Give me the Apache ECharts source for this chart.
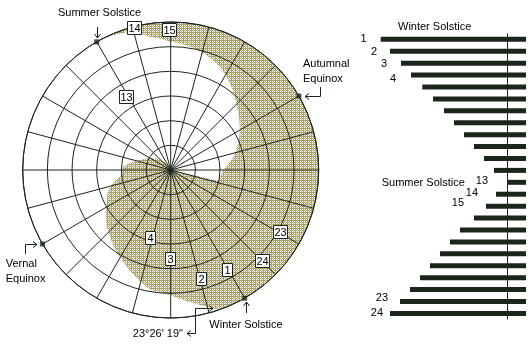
<!DOCTYPE html>
<html><head><meta charset="utf-8">
<script src="https://cdn.jsdelivr.net/npm/echarts@6/dist/echarts.min.js"></script>
<style>html,body{margin:0;padding:0;background:#fff}#c{width:532px;height:347px}</style>
</head><body><div id="c"></div>
<script>
// ---------- data ----------
const ringCount = 6;            // radial rings
const spokeStep = 15;           // degrees between spokes
// shaded band: inner edge then outer edge, [radius (ring units), angle deg]
const shadeInner = [[0,-13],[1.95,-13],[2.13,0],[2.6,12],[3.06,25],[3.72,44],[4.18,54],[4.64,64.5],[4.91,74],[5.11,83],[5.2,90],[5.47,99],[5.84,106],[6,118]];
const shadeOuter = [[6,118],[6,-68],[5.92,-72],[5.47,-80],[5.07,-90],[4.9,-100],[4.3,-114.5],[3.65,-132.3],[3.32,-142.3],[2.92,-152.5],[2.66,-162.2],[2.07,-172.5],[1.93,-184],[1.3,-198],[0.85,-214],[0.32,-235],[0,-250]];
// numbered markers on the polar plot
const markerLabels = ['1','2','3','4','13','14','15','23','24'];
const markerPos = [[4.65,299.5],[4.58,285.7],[3.6,270],[2.87,253.6],[3.45,121.5],[5.96,104.4],[5.68,90.3],[5.12,330.5],[5.26,315.3]];
// season points on the rim: summer, autumn, vernal, winter
const seasonPts = [[6,120],[6,30],[6,210],[6,300]];
const seasonNames = ['Summer Solstice','Autumnal\nEquinox','Vernal\nEquinox','Winter Solstice'];
const obliquityText = '23°26\' 19"';
const obliquityPt = [5.92,288];
// bar chart
const barCats = ['1','2','3','4','5','6','7','8','9','10','11','12','13','14','15','16','17','18','19','20','21','22','23','24'];
const barValues = [145.3,136,125,115,103.7,93,82,72,62,52,42,32,18,30,40,52,66,76,86,96,106,116,126,136];
const barRefValue = 18.3;
const barShownLabels = ['1','2','3','4','13','14','15','23','24'];
const barTitles = ['Winter Solstice','Summer Solstice'];

// ---------- style ----------
const INK = '#1b261b';
const FONT = '"Liberation Sans", Arial, sans-serif';
const barLabelStyle = { // distance, dy
  '1':[14,0],'2':[13,1],'3':[14,1],'4':[15,3.5],'13':[20,-1],'14':[18,-1.3],'15':[22,-2.7],'23':[12,-3.5],'24':[7,0]
};
function stipple(){
  const c=document.createElement('canvas'); c.width=4; c.height=4;
  const g=c.getContext('2d');
  const bayer=[[0,8,2,10],[12,4,14,6],[3,11,1,9],[15,7,13,5]];
  g.fillStyle='#ffffff'; g.fillRect(0,0,4,4);
  g.fillStyle='#b3a25e';
  for(let y=0;y<4;y++)for(let x=0;x<4;x++) if(bayer[y][x]<11) g.fillRect(x,y,1,1);
  return c;
}
const pattern = {image: stipple(), repeat:'repeat'};

const chart = echarts.init(document.getElementById('c'), null, {renderer:'canvas'});
const option = {
  animation:false,
  backgroundColor:'#fff',
  polar:{center:[170.7,170], radius:148},
  angleAxis:{type:'value', min:0, max:360, interval:spokeStep, startAngle:0, clockwise:false,
    axisLine:{show:true, lineStyle:{color:INK, width:1}}, axisTick:{show:false}, axisLabel:{show:false},
    splitLine:{show:true, lineStyle:{color:INK, width:1}}},
  radiusAxis:{type:'value', min:0, max:ringCount, interval:1,
    axisLine:{show:false}, axisTick:{show:false}, axisLabel:{show:false},
    splitLine:{show:true, lineStyle:{color:INK, width:1}}},
  grid:{left:376, width:150, top:33.35, height:286},
  xAxis:{type:'value', inverse:true, min:0, max:150, show:false},
  yAxis:{type:'category', data:barCats, inverse:true, show:false},
  series:[
    {type:'custom', coordinateSystem:'polar', z:-1, silent:true, data:[[0,0]],
      renderItem(params, api){
        const ring = shadeInner.concat(shadeOuter.slice(1));
        const pts=[];
        for(let i=0;i<ring.length-1;i++){
          const [r0,a0]=ring[i], [r1,a1]=ring[i+1];
          const n=Math.max(1,Math.ceil(Math.abs(a1-a0)/2));
          for(let k=0;k<n;k++){
            const t=k/n; const r=r0+(r1-r0)*t; let a=a0+(a1-a0)*t; a=((a%360)+360)%360;
            pts.push(api.coord([r,a]));
          }
        }
        const last=ring[ring.length-1];
        pts.push(api.coord([last[0], ((last[1]%360)+360)%360]));
        return {type:'polygon', shape:{points:pts}, style:{fill:pattern, stroke:null}};
      }},
    {type:'scatter', coordinateSystem:'polar', symbol:'rect', symbolSize:5, z:5,
      itemStyle:{color:INK}, data:seasonPts, silent:true},
    {type:'custom', coordinateSystem:'polar', z:6, silent:true, data:markerPos,
      renderItem(params, api){
        const t=markerLabels[params.dataIndex];
        const c=api.coord([api.value(0), api.value(1)]);
        const w = t.length===1 ? 11 : 15, h = 14;
        const x=Math.round(c[0]-w/2)+0.5, y=Math.round(c[1]-h/2)+0.5;
        return {type:'group', children:[
          {type:'rect', shape:{x, y, width:w-1, height:h-1}, style:{fill:'#fff', stroke:INK, lineWidth:1}},
          {type:'text', style:{text:t, x:x+(w-1)/2, y:y+(h-1)/2+0.5, align:'center', verticalAlign:'middle', font:'11px '+FONT, fill:'#000'}}
        ]};
      }},
    {type:'bar', xAxisIndex:0, yAxisIndex:0, barWidth:5, silent:true,
      itemStyle:{color:INK},
      data:barValues.map((v,i)=>{
        const name=barCats[i];
        const s=barLabelStyle[name];
        return {value:v, label: barShownLabels.includes(name)?
          {show:true, position:'left', distance:s[0], offset:[0,s[1]], formatter:name, color:'#000', fontFamily:FONT, fontSize:11}:{show:false}};
      }),
      markLine:{silent:true, symbol:'none', label:{show:false}, lineStyle:{color:INK, width:1, type:'solid'},
        data:[{xAxis:barRefValue}]}}
  ]
};
chart.setOption(option);

// ---------- annotations anchored to data ----------
function head(tip, dir){ // dir: unit vector the arrow points to
  const bx=-dir[0], by=-dir[1], px=-by, py=bx;
  return {type:'polyline', silent:true, shape:{points:[[tip[0]+bx*4+px*3, tip[1]+by*4+py*3],[tip[0],tip[1]],[tip[0]+bx*4-px*3, tip[1]+by*4-py*3]]}, style:{stroke:INK, lineWidth:1, fill:null}};
}
function line(points){ return {type:'polyline', silent:true, shape:{points}, style:{stroke:INK, lineWidth:1, fill:null}}; }
function txt(x,y,text,align){ return {type:'text', silent:true, x, y, style:{text, fill:'#000', font:'11px '+FONT, align:align||'left', verticalAlign:'middle', lineHeight:15}}; }
const R = p => [Math.round(p[0]), Math.round(p[1])];
const P = i => R(chart.convertToPixel({seriesIndex:1}, seasonPts[i]));
const s=P(0), a=P(1), v=P(2), w=P(3);
const o = R(chart.convertToPixel({seriesIndex:1}, obliquityPt));
const b1 = chart.convertToPixel({seriesIndex:3}, [barValues[0], 0]);
const b13 = chart.convertToPixel({seriesIndex:3}, [barValues[12], 12]);
const els = [
  txt(s[0]-39, s[1]-28.7, seasonNames[0]),
  line([[s[0]+0.5, s[1]-15],[s[0]+0.5, s[1]-4]]), head([s[0]+0.5, s[1]-4],[0,1]),
  txt(a[0]+4, a[1]-24.5, seasonNames[1]),
  line([[a[0]+21.5, a[1]-9],[a[0]+21.5, a[1]+0.5],[a[0]+6, a[1]+0.5]]), head([a[0]+6, a[1]+0.5],[-1,0]),
  txt(v[0]-37.3, v[1]+27, seasonNames[2]),
  line([[v[0]-17.5, v[1]+10],[v[0]-17.5, v[1]+0.5],[v[0]-6, v[1]+0.5]]), head([v[0]-6, v[1]+0.5],[1,0]),
  txt(w[0]-35.7, w[1]+26.6, seasonNames[3]),
  line([[w[0]+1.5, w[1]+15],[w[0]+1.5, w[1]+4]]), head([w[0]+1.5, w[1]+4],[0,-1]),
  txt(o[0]-33, o[1]+24.5, obliquityText, 'right'),
  line([[o[0]-3, o[1]-0.5],[o[0]-20.5, o[1]-0.5],[o[0]-20.5, o[1]+24.5],[o[0]-29, o[1]+24.5]]),
  head([o[0]-3, o[1]-0.5],[1,0]), head([o[0]-29, o[1]+24.5],[-1,0]),
  txt(398, b1[1]-12.6, barTitles[0]),
  txt(381.7, b13[1]+1, barTitles[1])
];
chart.setOption({graphic:{elements:els}});
</script></body></html>
